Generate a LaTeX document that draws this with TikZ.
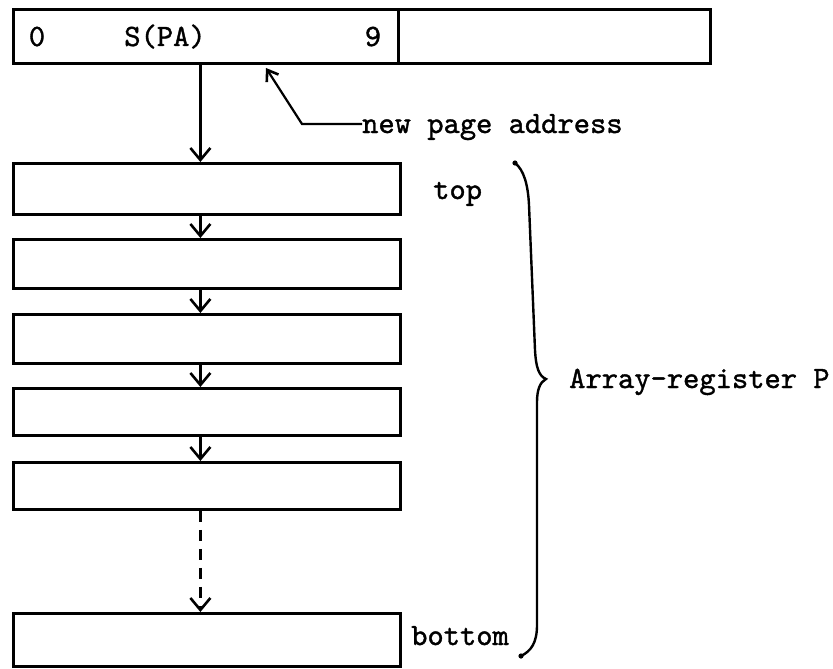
\documentclass[tikz,border=0pt]{standalone}
\usepackage{fontspec}
\newfontfamily\tw{lmmono10-regular.otf}[FakeBold=1.2]
\usetikzlibrary{arrows.meta}
\begin{document}
\begin{tikzpicture}[x=1pt,y=-1pt,
  regbox/.style={draw, line width=2.8pt, inner sep=0pt, anchor=north west},
  lab/.style={font=\tw\fontsize{31}{36}\selectfont, inner sep=0pt},
  link/.style={line width=2.2pt, -{Straight Barb[length=12pt,width=20pt,line width=2.6pt]}},
  ]
\useasboundingbox[fill=white] (0,0) rectangle (833,669);
% top register
\node[regbox, minimum width=385pt, minimum height=54pt] (r1) at (12,8) {};
\node[regbox, minimum width=312pt, minimum height=54pt] (r2) at (397,8) {};
\node[lab, anchor=base] (t0) at (37,46) {0};
\node[lab, anchor=base] (tspa) at (165,46) {S(PA)};
\node[lab, anchor=base] (t9) at (373,46) {9};
% stack of registers
\node[regbox, minimum width=387pt, minimum height=51pt] (b1) at (12,162) {};
\node[regbox, minimum width=387pt, minimum height=49pt] (b2) at (12,238) {};
\node[regbox, minimum width=387pt, minimum height=49pt] (b3) at (12,313) {};
\node[regbox, minimum width=387pt, minimum height=47pt] (b4) at (12,387) {};
\node[regbox, minimum width=387pt, minimum height=47pt] (b5) at (12,461) {};
\node[regbox, minimum width=387pt, minimum height=53pt] (b6) at (12,612) {};
% arrows
\draw[link] ([xshift=-5.5pt]r1.south) -- ([xshift=-6.5pt]b1.north);
\draw[link] ([xshift=-6.5pt]b1.south) -- ([xshift=-6.5pt]b2.north);
\draw[link] ([xshift=-6.5pt]b2.south) -- ([xshift=-6.5pt]b3.north);
\draw[link] ([xshift=-6.5pt]b3.south) -- ([xshift=-6.5pt]b4.north);
\draw[link] ([xshift=-6.5pt]b4.south) -- ([xshift=-6.5pt]b5.north);
\draw[link, dash pattern=on 11pt off 8pt] ([xshift=-6.5pt]b5.south) -- ([xshift=-6.5pt]b6.north);
% new page address pointer
\node[lab, anchor=base west] (npa) at (362,133) {new page address};
\coordinate (tip) at (266,68);
\draw[line width=2.2pt, -{Straight Barb[length=10pt,width=14pt,line width=2.6pt]}] (npa.west |- 0,124) -- (302,124) -- (tip);
% labels
\node[lab, anchor=base west] (top) at (433,199) {top};
\node[lab, anchor=base west] (bot) at (411,645) {bottom};
\node[lab, anchor=base west] (arr) at (569,388) {Array-register P};
% brace
\draw[line width=2.4pt, line cap=round]
  (515,163) .. controls (524,170) and (528,185) .. (529,205)
  -- (535,350) .. controls (536,368) and (539,376) .. (546,379)
  .. controls (540,382) and (537,390) .. (537,402)
  -- (537,625) .. controls (537,643) and (531,651) .. (521,656);
\fill (515,163) circle (2.6pt);
\fill (521,656) circle (2.6pt);
\end{tikzpicture}
\end{document}
